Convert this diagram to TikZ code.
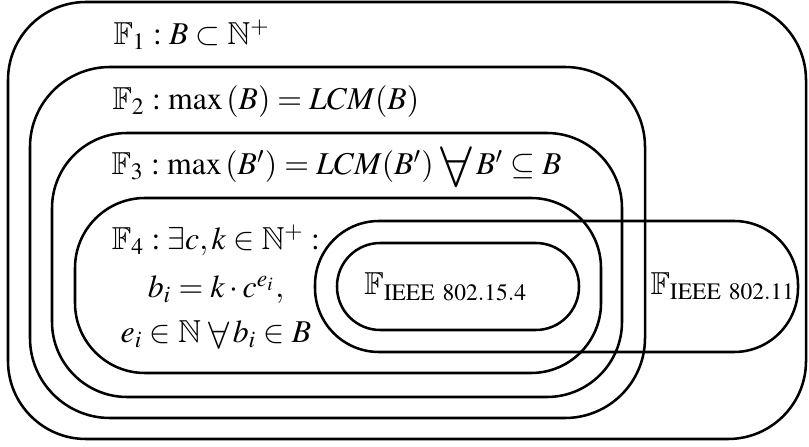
\documentclass[tikz,border=0pt]{standalone}
\usepackage{mathptmx}
\usepackage{amsmath, amssymb}
\usepackage{graphicx}
\usepackage{fontspec}
\setmainfont{Liberation Serif}
\usetikzlibrary{positioning}

\newcommand{\bigall}[1]{\mathord{\vcenter{\hbox{\scalebox{#1}{$\forall$}}}}}

\begin{document}
\begin{tikzpicture}[
    setbox/.style={draw, line width=0.9pt, rounded corners=#1},
    setbox/.default=0.9cm,
    lbl/.style={font=\fontsize{11.3pt}{13pt}\selectfont, inner sep=0pt},
]
\useasboundingbox (0,0) rectangle (10.1125,5.575);

% Nested families
\draw[setbox=0.975cm] (0.1,0.0875) rectangle (10.075,5.55);
\draw[setbox=1cm] (0.375,0.35) rectangle (8.0625,4.7375);
\draw[setbox=0.94cm] (0.65,0.6125) rectangle (7.775,3.9125);
\draw[setbox=0.875cm] (0.9375,0.9125) rectangle (7.5125,3.1);

% Standards
\draw[setbox=0.8cm] (3.9375,1.175) rectangle (9.975,2.8125);
\draw[setbox=0.54cm] (4.2125,1.45) rectangle (7.2375,2.5375);

% Labels
\node[lbl, anchor=base west] (fone) at (1.4125,5.0125) {$\mathbb{F}_1 : B \subset \mathbb{N}^+$};
\node[lbl, anchor=base west] (ftwo) at (1.4,4.2) {$\mathbb{F}_2 : \max\left(B\right) = LCM(B)$};
\node[lbl, anchor=base west] (fthree) at (1.3875,3.3875) {$\mathbb{F}_3 : \max\left(B'\right) = LCM(B')\;\bigall{1.8}\,B' \subseteq B$};

\node[lbl, anchor=base] (ffoura) at (2.7,2.45) {$\mathbb{F}_4 : \exists c, k \in \mathbb{N}^+ :$};
\node[lbl, anchor=base] (ffourb) at (2.7,1.85) {$b_i = k \cdot c^{e_i},$};
\node[lbl, anchor=base] (ffourc) at (2.7,1.2875) {$e_i \in \mathbb{N}\;\bigall{1.2}\,b_i \in B$};

\node[lbl, anchor=base] (fzig) at (5.575,1.8875) {$\mathbb{F}_{\mathrm{IEEE\ 802.15.4}}$};
\node[lbl, anchor=base] (fwifi) at (9.0375,1.8875) {$\mathbb{F}_{\mathrm{IEEE\ 802.11}}$};

\end{tikzpicture}
\end{document}
